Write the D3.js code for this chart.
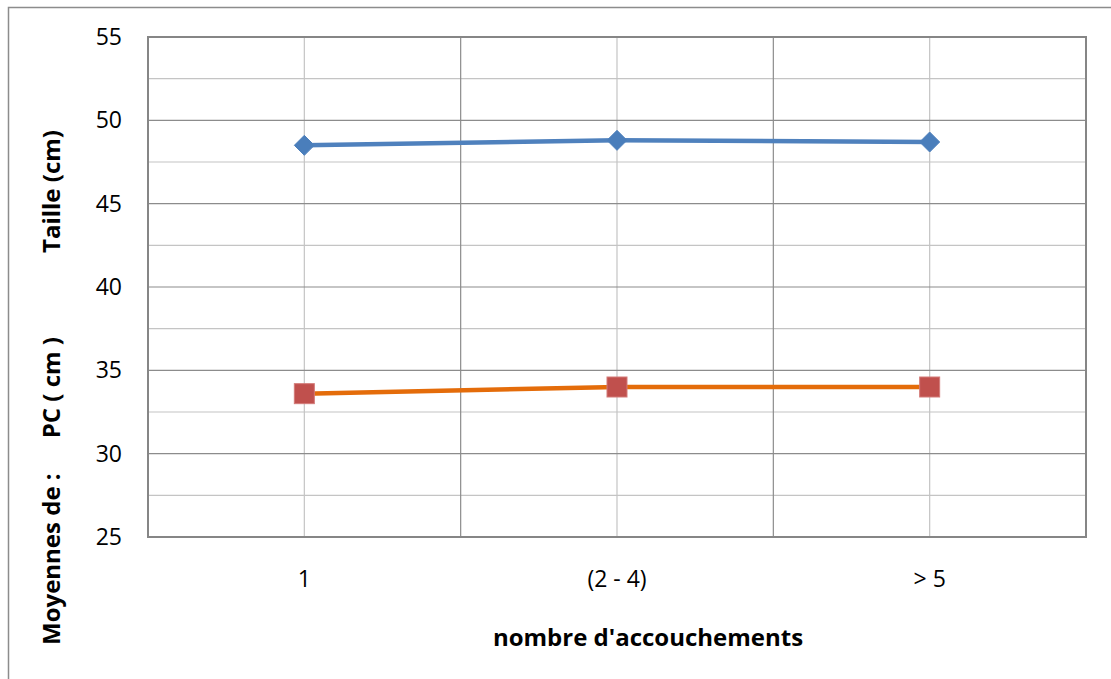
<!DOCTYPE html>
<html>
<head>
<meta charset="utf-8">
<script src="https://cdn.jsdelivr.net/npm/d3@7"></script>
<style>
  html, body { margin: 0; padding: 0; background: #fff; }
  svg { display: block; }
  text { font-family: "Open Sans", "Noto Sans", sans-serif; fill: #000; }
</style>
</head>
<body>
<svg id="chart" width="1111" height="679"></svg>
<script>
// Birth measurements by number of deliveries
const categories = ["1", "(2 - 4)", "> 5"];
const tailleValues = [48.5, 48.8, 48.7];   // mean length (cm)
const pcValues = [33.6, 34.0, 34.0];       // mean head circumference (cm)
const yMajorTicks = [25, 30, 35, 40, 45, 50, 55];
const yMinorTicks = [27.5, 32.5, 37.5, 42.5, 47.5, 52.5];

const svg = d3.select("#chart");
const W = 1111, H = 679;
const plot = { left: 148, top: 37, right: 1086, bottom: 537 };

// outer chart frame (right and bottom edges lie beyond the view)
svg.append("path")
  .attr("d", `M8.5,${H + 2} L8.5,7.5 L${W + 2},7.5`)
  .attr("fill", "none").attr("stroke", "#8c8c8c").attr("stroke-width", 1.5);

const x = d3.scaleBand().domain(categories).range([plot.left, plot.right]).padding(0);
const y = d3.scaleLinear().domain([25, 55]).range([plot.bottom, plot.top]);
const cx = d => x(d) + x.bandwidth() / 2;

const grid = svg.append("g");
// minor horizontal gridlines
grid.selectAll("line.hmin").data(yMinorTicks).join("line")
  .attr("x1", plot.left).attr("x2", plot.right)
  .attr("y1", d => y(d)).attr("y2", d => y(d))
  .attr("stroke", "#c4c4c4").attr("stroke-width", 1.2);
// minor vertical gridlines at category centers
grid.selectAll("line.vmin").data(categories).join("line")
  .attr("x1", cx).attr("x2", cx)
  .attr("y1", plot.top).attr("y2", plot.bottom)
  .attr("stroke", "#c4c4c4").attr("stroke-width", 1.2);
// major horizontal gridlines
grid.selectAll("line.hmaj").data(yMajorTicks.slice(1, -1)).join("line")
  .attr("x1", plot.left).attr("x2", plot.right)
  .attr("y1", d => y(d)).attr("y2", d => y(d))
  .attr("stroke", "#8c8c8c").attr("stroke-width", 1.2);
// major vertical gridlines at category boundaries
grid.selectAll("line.vmaj").data(categories.slice(1)).join("line")
  .attr("x1", d => x(d)).attr("x2", d => x(d))
  .attr("y1", plot.top).attr("y2", plot.bottom)
  .attr("stroke", "#8c8c8c").attr("stroke-width", 1.2);

// plot area border
svg.append("rect")
  .attr("x", plot.left).attr("y", plot.top)
  .attr("width", plot.right - plot.left).attr("height", plot.bottom - plot.top)
  .attr("fill", "none").attr("stroke", "#868686").attr("stroke-width", 2);

// y axis labels
const yAxis = d3.axisLeft(y).tickValues(yMajorTicks).tickSize(0).tickPadding(26).tickFormat(d3.format("d"));
const yg = svg.append("g").attr("transform", `translate(${plot.left},0)`).call(yAxis);
yg.select(".domain").remove();
yg.selectAll("text").attr("font-size", 23).attr("fill", "#000");

// x axis labels
const xAxis = d3.axisBottom(x).tickSize(0).tickPadding(34);
const xg = svg.append("g").attr("transform", `translate(0,${plot.bottom})`).call(xAxis);
xg.select(".domain").remove();
xg.selectAll("text").attr("font-size", 23).attr("fill", "#000");

// series lines
const line = d3.line().x((d, i) => cx(categories[i])).y(d => y(d));
svg.append("path").datum(tailleValues).attr("d", line)
  .attr("fill", "none").attr("stroke", "#4f81bd").attr("stroke-width", 4.5);
svg.append("path").datum(pcValues).attr("d", line)
  .attr("fill", "none").attr("stroke", "#e46c0a").attr("stroke-width", 4.5);

// diamond markers
const diamond = "M0,-10 L10,0 L0,10 L-10,0 Z";
svg.selectAll("path.diamond").data(tailleValues).join("path")
  .attr("class", "diamond")
  .attr("d", diamond)
  .attr("transform", (d, i) => `translate(${cx(categories[i])},${y(d)})`)
  .attr("fill", "#4a7ebb").attr("stroke", "#4f81bd").attr("stroke-width", 1);

// square markers
svg.selectAll("rect.square").data(pcValues).join("rect")
  .attr("class", "square")
  .attr("x", (d, i) => cx(categories[i]) - 10).attr("y", d => y(d) - 10)
  .attr("width", 20).attr("height", 20)
  .attr("fill", "#c0504d").attr("stroke", "#d37b79").attr("stroke-width", 1);

// axis titles
svg.append("text")
  .attr("x", 648).attr("y", 646)
  .attr("text-anchor", "middle").attr("font-weight", "bold").attr("font-size", 24)
  .text("nombre d'accouchements");

svg.append("text")
  .attr("transform", "translate(60,645) rotate(-90)")
  .attr("text-anchor", "start").attr("font-weight", "bold").attr("font-size", 24)
  .text("Moyennes de :");
svg.append("text")
  .attr("transform", "translate(60,337) rotate(-90)")
  .attr("text-anchor", "end").attr("font-weight", "bold").attr("font-size", 24)
  .text("PC ( cm )");
svg.append("text")
  .attr("transform", "translate(60,253) rotate(-90)")
  .attr("text-anchor", "start").attr("font-weight", "bold").attr("font-size", 24)
  .text("Taille (cm)");
</script>
</body>
</html>
